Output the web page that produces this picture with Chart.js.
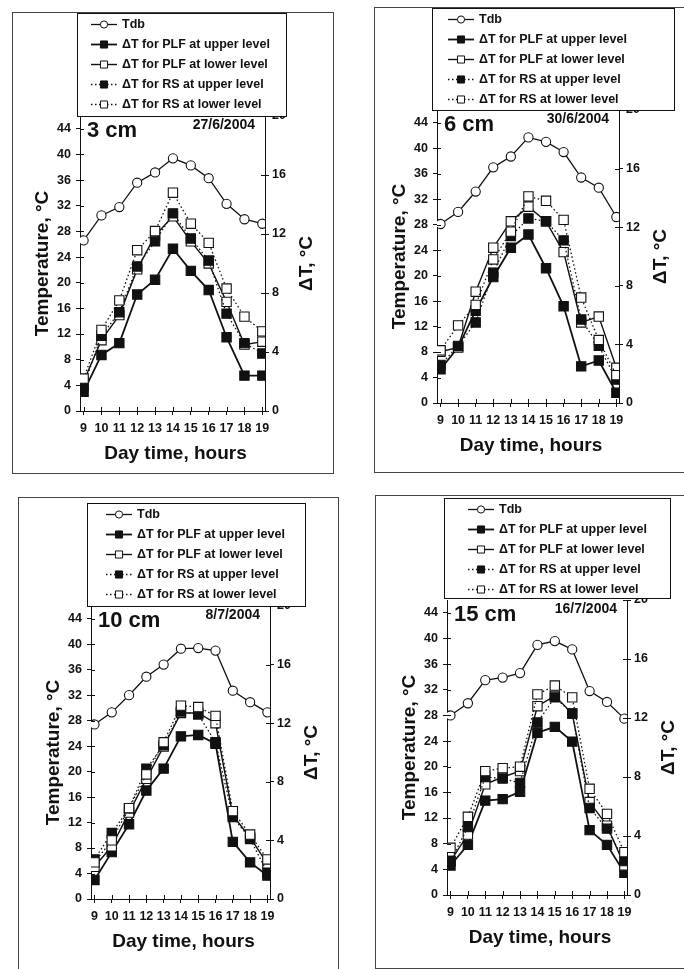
<!DOCTYPE html>
<html>
<head>
<meta charset="utf-8">
<script src="https://cdn.jsdelivr.net/npm/chart.js@4.4.1/dist/chart.umd.min.js"></script>
<style>
  html, body { margin: 0; padding: 0; background: #fff; }
  body { width: 684px; height: 969px; position: relative; overflow: hidden; }
  .panel { position: absolute; border: 1px solid #444; box-sizing: border-box; }
  .panel canvas { position: absolute; left: 0; top: 0; }
</style>
</head>
<body>
<div class="panel" id="p0"><canvas id="c0"></canvas></div>
<div class="panel" id="p1"><canvas id="c1"></canvas></div>
<div class="panel" id="p2"><canvas id="c2"></canvas></div>
<div class="panel" id="p3"><canvas id="c3"></canvas></div>
<script>
// shared axis data
const hours = [9, 10, 11, 12, 13, 14, 15, 16, 17, 18, 19];
const tempTicks = [0, 4, 8, 12, 16, 20, 24, 28, 32, 36, 40, 44];
const dtTicks = [0, 4, 8, 12, 16, 20];
const seriesNames = ['Tdb', 'ΔT for PLF at upper level', 'ΔT for PLF at lower level',
                     'ΔT for RS at upper level', 'ΔT for RS at lower level'];
const depths = ['3 cm', '6 cm', '10 cm', '15 cm'];
const dates = ['27/6/2004', '30/6/2004', '8/7/2004', '16/7/2004'];

// 3 cm, 27/6/2004
const tdb3 = [26.6, 30.5, 31.8, 35.6, 37.2, 39.4, 38.3, 36.3, 32.3, 29.9, 29.2];
const plfUp3 = [1.3, 3.8, 4.6, 7.9, 8.9, 11.0, 9.5, 8.2, 5.0, 2.4, 2.4];
const plfLow3 = [2.0, 4.8, 6.5, 9.6, 11.9, 13.2, 11.5, 10.0, 7.4, 4.5, 4.7];
const rsUp3 = [1.7, 5.1, 6.7, 9.8, 11.5, 13.4, 11.7, 10.2, 6.6, 4.6, 3.9];
const rsLow3 = [2.2, 5.5, 7.5, 10.9, 12.2, 14.8, 12.7, 11.4, 8.3, 6.4, 5.4];

// 6 cm, 30/6/2004
const tdb6 = [28.1, 30.0, 33.2, 37.0, 38.7, 41.7, 41.0, 39.4, 35.4, 33.8, 29.2];
const plfUp6 = [2.3, 3.8, 6.3, 8.6, 10.6, 11.5, 9.2, 6.6, 2.5, 2.9, 0.7];
const plfLow6 = [3.5, 3.8, 7.6, 10.6, 12.4, 13.4, 12.4, 10.3, 5.5, 5.9, 2.4];
const rsUp6 = [2.6, 3.9, 5.5, 8.9, 11.4, 12.6, 12.4, 11.1, 5.7, 3.9, 1.6];
const rsLow6 = [3.6, 5.3, 6.7, 9.8, 11.7, 14.1, 13.8, 12.5, 7.2, 4.3, 1.9];

// 10 cm, 8/7/2004
const tdb10 = [27.4, 29.3, 32.0, 34.9, 36.8, 39.3, 39.4, 39.0, 32.7, 30.9, 29.3];
const plfUp10 = [1.3, 3.2, 5.1, 7.4, 8.9, 11.1, 11.2, 10.6, 3.9, 2.5, 1.6];
const plfLow10 = [2.2, 3.6, 5.9, 8.2, 10.4, 12.7, 12.7, 12.0, 5.7, 4.2, 2.4];
const rsUp10 = [2.7, 4.5, 6.2, 8.9, 10.5, 12.8, 12.6, 10.7, 5.6, 4.1, 1.8];
const rsLow10 = [2.5, 4.0, 6.2, 8.5, 10.7, 13.2, 13.1, 12.5, 6.0, 4.4, 2.7];

// 15 cm, 16/7/2004
const tdb15 = [28.0, 29.9, 33.5, 33.9, 34.6, 39.0, 39.6, 38.3, 31.8, 30.1, 27.5];
const plfUp15 = [2.0, 3.4, 6.4, 6.5, 7.0, 11.0, 11.4, 10.4, 4.4, 3.4, 1.5];
const plfLow15 = [2.3, 4.1, 7.5, 8.0, 8.4, 12.8, 13.5, 12.3, 6.3, 4.7, 2.0];
const rsUp15 = [2.3, 4.6, 8.0, 7.9, 7.6, 11.7, 13.4, 12.3, 5.9, 4.5, 2.3];
const rsLow15 = [3.2, 5.3, 8.4, 8.6, 8.7, 13.6, 14.2, 13.4, 7.2, 5.5, 2.9];

const panelSeries = [
    [tdb3, plfUp3, plfLow3, rsUp3, rsLow3],
    [tdb6, plfUp6, plfLow6, rsUp6, rsLow6],
    [tdb10, plfUp10, plfLow10, rsUp10, rsLow10],
    [tdb15, plfUp15, plfLow15, rsUp15, rsLow15]
];

const ink = '#111';
const FONT = '"Liberation Sans", Arial, sans-serif';

// page coords: frame box, plot area [l, t, r, b], legend box [x, y, w, h], legend marker start
const panels = [
    { frame: [12, 12, 322, 462], area: [80, 116, 265, 411], legend: [77, 13, 209, 103], markX: 91 },
    { frame: [374, 7, 316, 466], area: [437, 110, 619, 403], legend: [432, 8, 242, 102], markX: 448 },
    { frame: [18, 497, 321, 480], area: [91, 606, 270, 899], legend: [87, 503, 218, 103], markX: 106 },
    { frame: [375, 495, 315, 474], area: [447, 600, 627, 895], legend: [444, 498, 226, 100], markX: 468 }
];

const seriesStyles = [
    { axis: 'y', dash: [], width: 1.3, point: 'circle', radius: 4.6, fill: '#fff', legendRadius: 3.6 },
    { axis: 'y1', dash: [], width: 1.8, point: 'rect', radius: 6.6, fill: ink, legendRadius: 5 },
    { axis: 'y1', dash: [], width: 1.4, point: 'rect', radius: 6.6, fill: '#fff', legendRadius: 5 },
    { axis: 'y1', dash: [1.5, 2.5], width: 1.3, point: 'rect', radius: 6.6, fill: ink, legendRadius: 5 },
    { axis: 'y1', dash: [1.5, 2.5], width: 1.3, point: 'rect', radius: 6.6, fill: '#fff', legendRadius: 5 }
];

const tickFont = { family: FONT, size: 12.5, weight: 'bold' };

// titles, labels, inner tick halves and the boxed legend
function decorPlugin(p, idx, ox, oy) {
    return {
        id: 'decor',
        afterDraw(chart) {
            const ctx = chart.ctx;
            const a = chart.chartArea;
            ctx.save();
            ctx.strokeStyle = ink;
            ctx.fillStyle = ink;
            ctx.lineWidth = 1;

            // inward half of the "+" tick marks
            ['x', 'y', 'y1'].forEach(id => {
                const s = chart.scales[id];
                s.ticks.forEach(t => {
                    const v = Math.round(s.getPixelForValue(t.value)) + 0.5;
                    ctx.beginPath();
                    if (id === 'x') { ctx.moveTo(v, a.bottom); ctx.lineTo(v, a.bottom - 4); }
                    else if (id === 'y') { ctx.moveTo(a.left, v); ctx.lineTo(a.left + 4, v); }
                    else { ctx.moveTo(a.right, v); ctx.lineTo(a.right - 4, v); }
                    ctx.stroke();
                });
            });

            // axis titles
            const midY = (a.top + a.bottom) / 2;
            ctx.font = 'bold 19px ' + FONT;
            ctx.textAlign = 'center';
            ctx.textBaseline = 'middle';
            ctx.save();
            ctx.translate(a.left - 37, midY);
            ctx.rotate(-Math.PI / 2);
            ctx.fillText('Temperature, °C', 0, 0);
            ctx.restore();
            ctx.save();
            ctx.translate(a.right + 42, midY);
            ctx.rotate(-Math.PI / 2);
            ctx.fillText('ΔT, °C', 0, 0);
            ctx.restore();
            ctx.fillText('Day time, hours', (a.left + a.right) / 2 + 3, a.bottom + 43);

            // depth and date
            ctx.textAlign = 'left';
            ctx.font = 'bold 22px ' + FONT;
            ctx.fillText(depths[idx], a.left + 7, a.top + 15);
            ctx.textAlign = 'right';
            ctx.font = 'bold 14px ' + FONT;
            ctx.fillText(dates[idx], a.right - 10, a.top + 9);

            // legend box
            const lx = p.legend[0] - ox, ly = p.legend[1] - oy;
            const lw = p.legend[2], lh = p.legend[3];
            ctx.fillStyle = '#fff';
            ctx.fillRect(lx, ly, lw, lh);
            ctx.strokeRect(Math.round(lx) + 0.5, Math.round(ly) + 0.5, lw, lh);
            ctx.font = 'bold 12.5px ' + FONT;
            ctx.textAlign = 'left';
            chart.data.datasets.forEach((ds, i) => {
                const st = seriesStyles[i];
                const cy = Math.round(ly + 11 + i * 20) + 0.5;
                const x0 = p.markX - ox, x1 = x0 + 26;
                ctx.strokeStyle = ink;
                ctx.lineWidth = st.width;
                ctx.setLineDash(st.dash);
                ctx.beginPath();
                ctx.moveTo(x0, cy);
                ctx.lineTo(x1, cy);
                ctx.stroke();
                ctx.setLineDash([]);
                ctx.lineWidth = 1;
                ctx.fillStyle = st.fill;
                Chart.helpers.drawPoint(ctx, { pointStyle: st.point, radius: st.legendRadius, borderWidth: 1, rotation: 0 }, (x0 + x1) / 2, cy);
                ctx.fillStyle = ink;
                ctx.fillText(ds.label, x1 + 5, cy);
            });
            ctx.restore();
        }
    };
}

panels.forEach((p, idx) => {
    const [fx, fy, fw, fh] = p.frame;
    const box = document.getElementById('p' + idx);
    box.style.left = fx + 'px';
    box.style.top = fy + 'px';
    box.style.width = fw + 'px';
    box.style.height = fh + 'px';

    const ox = fx + 1, oy = fy + 1;
    const cw = fw - 2, ch = fh - 2;
    const canvas = document.getElementById('c' + idx);
    canvas.width = cw;
    canvas.height = ch;
    canvas.style.width = cw + 'px';
    canvas.style.height = ch + 'px';

    const L = p.area[0] - ox;
    const T = p.area[1] - oy;
    const R = cw - (p.area[2] - ox);
    const B = ch - (p.area[3] - oy);

    const datasets = panelSeries[idx].map((arr, i) => {
        const st = seriesStyles[i];
        return {
            label: seriesNames[i],
            data: hours.map((h, k) => ({ x: h, y: arr[k] })),
            yAxisID: st.axis,
            borderColor: ink,
            borderWidth: st.width,
            borderDash: st.dash,
            pointStyle: st.point,
            pointRadius: st.radius,
            pointBackgroundColor: st.fill,
            pointBorderColor: ink,
            pointBorderWidth: 1.1,
            tension: 0,
            order: -i
        };
    });

    new Chart(canvas, {
        type: 'line',
        data: { datasets },
        options: {
            responsive: false,
            animation: false,
            events: [],
            layout: { padding: { top: T, left: 0, right: 0, bottom: 0 } },
            plugins: { legend: { display: false }, tooltip: { enabled: false } },
            scales: {
                x: {
                    type: 'linear',
                    min: 8.8,
                    max: 19.15,
                    afterBuildTicks: s => { s.ticks = hours.map(v => ({ value: v })); },
                    afterFit: s => { s.height = B; },
                    ticks: { font: tickFont, color: ink, padding: 6, autoSkip: false, maxRotation: 0 },
                    grid: { drawOnChartArea: false, tickLength: 4, color: ink },
                    border: { color: ink, width: 1 }
                },
                y: {
                    position: 'left',
                    min: 0,
                    max: 46,
                    afterBuildTicks: s => { s.ticks = tempTicks.map(v => ({ value: v })); },
                    afterFit: s => { s.width = L; },
                    ticks: { font: tickFont, color: ink, padding: 5 },
                    grid: { drawOnChartArea: false, tickLength: 4, color: ink },
                    border: { color: ink, width: 1 }
                },
                y1: {
                    position: 'right',
                    min: 0,
                    max: 20,
                    afterBuildTicks: s => { s.ticks = dtTicks.map(v => ({ value: v })); },
                    afterFit: s => { s.width = R; },
                    ticks: { font: tickFont, color: ink, padding: 3 },
                    grid: { drawOnChartArea: false, tickLength: 4, color: ink },
                    border: { color: ink, width: 1 }
                }
            }
        },
        plugins: [decorPlugin(p, idx, ox, oy)]
    });
});
</script>
</body>
</html>
